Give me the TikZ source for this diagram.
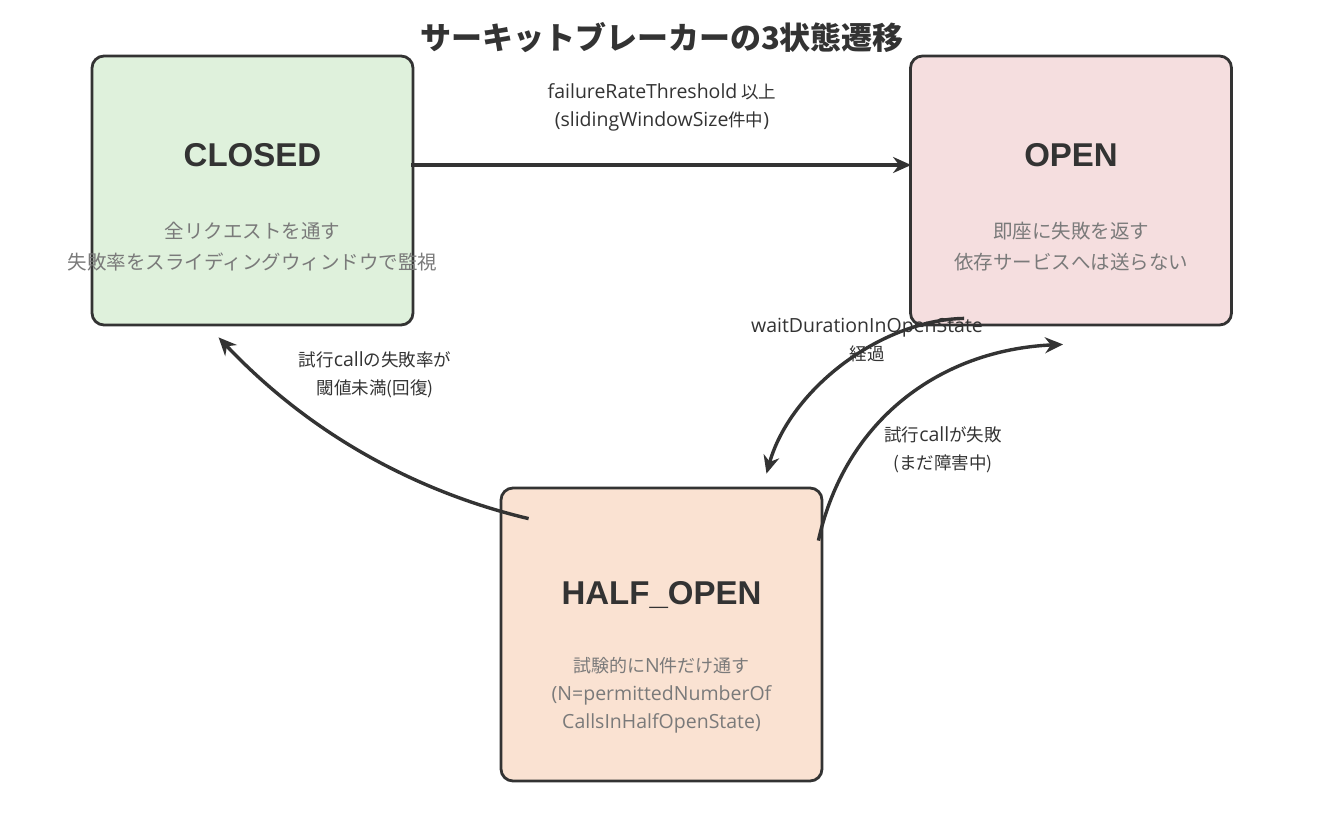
\documentclass[tikz,border=0pt]{standalone}
\usepackage{fontspec}
\setmainfont{Noto Sans CJK JP}
\newfontfamily\latin{Open Sans}
\newfontfamily\headlatin{Liberation Sans}
\newcommand\lat[1]{{\latin\fontsize{19.5}{28}\selectfont #1}}
\usepackage{xcolor}
\usetikzlibrary{arrows.meta,calc}

\definecolor{ink}{HTML}{333333}
\definecolor{notegray}{HTML}{7A7A7A}
\definecolor{closedfill}{HTML}{DFF1DC}
\definecolor{openfill}{HTML}{F5DEDF}
\definecolor{halffill}{HTML}{FAE2D2}

\tikzset{
  statebox/.style={draw=ink, line width=2.8pt, rounded corners=12pt,
    minimum width=321pt, minimum height=269pt, inner sep=0pt},
  statename/.style={text=ink, font=\fontsize{33}{40}\selectfont\headlatin\bfseries},
  statenote/.style={text=notegray, align=center, font=\fontsize{19.5}{31}\selectfont},
  trans/.style={draw=ink, line width=3.4pt, -{Stealth[length=18pt,width=16pt]}},
  translabel/.style={text=ink, align=center, font=\fontsize{17.5}{28}\selectfont},
}

\begin{document}
\begin{tikzpicture}[x=1pt,y=-1pt]
  \useasboundingbox[fill=white] (0,0) rectangle (1323,823);

  \node[text=ink, font=\fontsize{31}{36}\selectfont\bfseries] (title) at (662,38)
    {サーキットブレーカーの3状態遷移};

  % states
  \node[statebox, fill=closedfill] (closed) at (252.5,190.5) {};
  \node[statebox, fill=openfill] (open) at (1071,190.5) {};
  \node[statebox, fill=halffill, minimum height=293pt] (half) at (661.5,634.5) {};

  \node[statename] (closed-name) at (252.5,155) {CLOSED};
  \node[statenote] (closed-note) at (252.5,247)
    {全リクエストを通す\\失敗率をスライディングウィンドウで監視};
  \node[statename] (open-name) at (1071,155) {OPEN};
  \node[statenote] (open-note) at (1071,247)
    {即座に失敗を返す\\依存サービスへは送らない};
  \node[statename] (half-name) at (661.5,595) {HALF\_OPEN};
  \node[statenote, font=\fontsize{18}{28}\selectfont] (half-note) at (661.5,695)
    {試験的に\lat{N}件だけ通す\\\lat{(N=permittedNumberOf}\\\lat{CallsInHalfOpenState)}};

  % transitions
  \draw[trans] ($(closed.east)+(-3,-25.5)$) -- ($(open.west)+(2,-25.5)$);
  \node[translabel] (lbl-trip) at (662,107)
    {\lat{failureRateThreshold} 以上\\\lat{(slidingWindowSize}件中\lat{)}};

  \draw[trans] ($(open.south west)+(55,-8)$)
    .. controls (880,320) and (790,390) .. ($(half.north)+(105,-13)$);
  \node[translabel] (lbl-wait) at (867,340) {\lat{waitDurationInOpenState}\\経過};

  \draw[trans] ($(half.north east)+(-5,54)$)
    .. controls (845,420) and (940,350) .. ($(open.south)+(-8,18)$);
  \node[translabel] (lbl-fail) at (943,450) {試行\lat{call}が失敗\\(まだ障害中)};

  \draw[trans] ($(half.north west)+(29,32)$)
    .. controls (450,500) and (330,455) .. ($(closed.south west)+(128,11)$);
  \node[translabel] (lbl-ok) at (375,375) {試行\lat{call}の失敗率が\\閾値未満(回復)};
\end{tikzpicture}
\end{document}
